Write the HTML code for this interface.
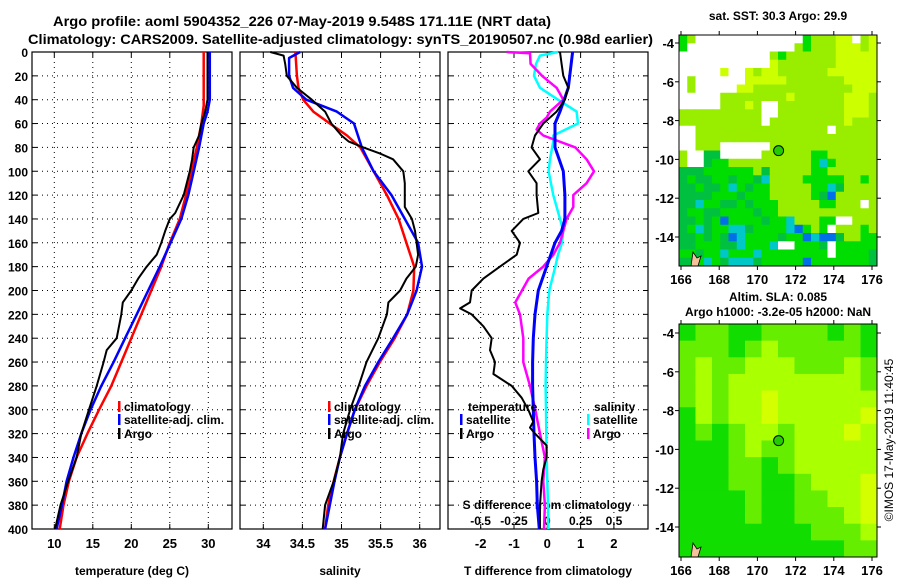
<!DOCTYPE html>
<html><head><meta charset="utf-8"><style>
body{margin:0;background:#fff;}
svg{display:block;font-family:"Liberation Sans",sans-serif;font-weight:bold;}
</style></head><body>
<svg id="chart" width="900" height="580" viewBox="0 0 900 580" xmlns="http://www.w3.org/2000/svg">
<text x="53" y="26" font-size="14" textLength="498" lengthAdjust="spacingAndGlyphs">Argo profile: aoml 5904352_226 07-May-2019 9.548S 171.11E (NRT data)</text>
<text x="28" y="44" font-size="14" textLength="625" lengthAdjust="spacingAndGlyphs">Climatology: CARS2009. Satellite-adjusted climatology: synTS_20190507.nc (0.98d earlier)</text>
<text x="778" y="20" font-size="12" text-anchor="middle">sat. SST: 30.3 Argo: 29.9</text>
<text x="778" y="301" font-size="12" text-anchor="middle">Altim. SLA: 0.085</text>
<text x="778" y="316" font-size="12" text-anchor="middle">Argo h1000: -3.2e-05 h2000: NaN</text>
<text transform="translate(893,440) rotate(-90)" font-size="12" font-weight="normal" text-anchor="middle">©IMOS 17-May-2019 11:40:45</text>
<g id="g"></g>
</svg>
<script>
const tDepth=[0,45,60,80,100,120,140,160,180,200,220,240,260,280,300,320,340,360,380,400];
const tClim=[29.4,29.4,29.1,28.5,27.8,27.1,26.3,25.0,23.9,22.6,21.3,20.0,18.7,17.4,15.8,14.3,12.9,11.9,11.2,10.7];
const tSatDepth=[0,40,50,60,80,100,120,140,160,180,200,220,240,260,280,300,320,340,360,380,400];
const tSat=[30.2,30.2,29.9,29.4,28.8,28.1,27.4,26.5,25.1,23.7,22.2,20.7,19.2,17.7,16.1,14.7,13.5,12.5,11.6,11.0,10.3];
const tArgoDepth=[0,40,50,60,70,80,90,100,120,135,140,150,160,170,180,190,200,210,220,240,250,260,280,300,320,340,360,380,400];
const tArgo=[29.9,29.9,29.6,29.1,28.8,28.1,27.9,27.6,26.8,25.7,25.0,24.4,23.9,23.3,22.0,20.9,20.0,18.9,18.7,18.1,16.8,16.4,15.5,14.5,13.5,12.9,11.8,10.8,10.1];
const sClimDepth=[0,20,30,40,50,60,70,80,100,120,140,160,180,200,220,240,260,280,300,320,340,360,380,400];
const sClim=[34.41,34.43,34.45,34.51,34.64,34.85,35.07,35.24,35.41,35.58,35.73,35.83,35.93,35.92,35.84,35.68,35.49,35.32,35.17,35.07,34.98,34.90,34.83,34.79];
const sSatDepth=[0,5,20,30,40,50,60,80,100,120,140,160,180,200,220,240,260,280,300,320,340,360,380,400];
const sSat=[34.47,34.33,34.33,34.38,34.55,34.94,35.16,35.26,35.41,35.64,35.81,35.98,36.03,35.96,35.84,35.66,35.47,35.30,35.17,35.07,34.98,34.91,34.85,34.79];
const sArgoDepth=[0,3,10,20,30,40,50,60,70,75,80,85,90,100,110,130,140,150,160,170,180,190,200,210,220,240,260,280,300,320,340,360,380,400];
const sArgo=[34.09,34.26,34.28,34.30,34.43,34.62,34.79,34.87,35.00,35.09,35.28,35.49,35.66,35.79,35.81,35.81,35.90,35.94,35.96,35.98,35.95,35.83,35.75,35.60,35.58,35.47,35.32,35.22,35.11,35.02,34.98,34.90,34.79,34.76];
const dTSatDepth=[0,30,50,60,80,100,120,140,150,160,180,200,220,240,260,280,300,320,340,360,380,400];
const dTSat=[0.76,0.63,0.38,0.23,0.23,0.48,0.53,0.53,0.43,0.23,-0.02,-0.27,-0.37,-0.42,-0.44,-0.44,-0.42,-0.40,-0.37,-0.32,-0.30,-0.24];
const dTArgoDepth=[0,10,20,30,40,50,60,70,80,90,100,110,120,135,140,150,160,170,180,190,200,210,215,220,230,240,250,260,270,280,290,300,310,315,320,330,340,350,360,380,400];
const dTArgo=[0.38,0.43,0.48,0.63,0.53,0.28,-0.12,-0.37,-0.47,-0.22,-0.57,-0.32,-0.32,-0.27,-0.72,-1.07,-0.82,-0.92,-1.42,-1.92,-2.27,-2.32,-2.62,-2.27,-1.92,-1.67,-1.72,-1.57,-1.62,-1.07,-0.77,-0.57,-0.42,-0.52,-0.37,-0.02,-0.02,-0.12,-0.17,-0.22,-0.22];
const dSSatDepth=[0,3,10,20,30,40,50,60,70,75,90,100,120,140,150,160,170,180,200,220,240,260,280,300,340,360,380,400];
const dSSat=[0.08,-0.055,-0.085,-0.1,-0.055,0.08,0.22,0.23,0.045,0.045,0.02,0.01,0.045,0.095,0.12,0.11,0.08,0.06,0.015,0,-0.005,-0.01,-0.013,-0.01,-0.005,0,0.005,0.008];
const dSArgoDepth=[0,1,10,20,30,35,40,50,55,60,65,70,80,90,100,110,120,130,140,150,160,170,180,190,200,210,220,240,260,280,300,320,340,360,380,400];
const dSArgo=[-0.305,-0.13,-0.125,-0.04,0.07,0.095,0.12,0.02,-0.005,-0.055,-0.08,-0.03,0.21,0.295,0.35,0.295,0.195,0.195,0.145,0.12,0.095,0.045,-0.03,-0.14,-0.19,-0.24,-0.205,-0.18,-0.18,-0.13,-0.09,-0.055,-0.018,-0.03,-0.018,-0.025];
const depthTicks=[0,20,40,60,80,100,120,140,160,180,200,220,240,260,280,300,320,340,360,380,400];
const tTicks=[10,15,20,25,30];
const sTicks=[34,34.5,35,35.5,36];
const dTTicks=[-2,-1,0,1,2];
const dSTicks=[-0.5,-0.25,0,0.25,0.5];
const lonTicks=[166,168,170,172,174,176];
const latTicks=[-4,-6,-8,-10,-12,-14];
const argoLon=171.11, argoLat=-9.548;
const sstGrid=[
"GLWWWWWWWWWWWWWGLLLYYWLY","GWWWWWWWWWWWWWLGLLLYYYLY","WWWWWWWWWWWLGLLLLLLYYYYY","WWWWWWWWWWWYLLLLLLLYYYYY",
"WWWWWYWWYLYYLLLLLLYYYYYY","WLWWWWWWYYYYYLLLLLLLYYYY","WLWWWWWYYLLLLLLLLLLLLYYY","WWWWWLLLLLLLLYLLLLLLYYYL",
"WWWWWLLLYLWWLLLLLLLLYYYL","LLLLLLLLLLWWLLLLLLLLYYYL","LLLLLLLLLLWLLLLLLLLLYLLL","WWLLLLLLLLLLLLLLLLWLLLLL",
"WWLLLLLLLLLLLLLLLLLLLLLL","WWLLLWWWWWWLLLLLLLLLLLLL","LWWDDWWWWWLLLLLLGGLLLLLL","LWWDGGLLLLLLLLLLGCGLLLLL",
"DDDGGGGGGLDLLLLLGGLLLLLL","DGDDGGDGGDCLLLLGGGGGLLGL","DDGDDGCGDGGLLLLLGGCDLLLL","DDDDGGGDGGGLLLLLGDBLLLLL",
"DDCGGDDGDGGGLLLLLGGLLLWL","DGGDDGGGGDGGLLLLLLLLLLLL","DDGDGBGGGGDGGCLLLGGWWLLL","DGCDGGCCDGGGGCBGLGWLLLGL",
"DDGDGDBCGGGGDGGBCBBDLLGG","DDGGGDDCGGGCWWGGGDWGGGGG","GGDGGCGGGCGGGGGGGGWGGGGD","DDGCGDCCCDGGGGGBGGGGGGGD"];
const slaGrid=[
"GLLGGLLLLGLG","LLLGLYLLLLLG","LYLLYYYLLLYL","LYLYYYYYYYYL","LYLYYOYYYYYY","GYLYYOYYYYYO","GLGLYYLYYYOY",
"GGGLYLLYYYYY","GGGLLGLYYYYY","GGGLLGGLYYYO","GGGGLGGLLYYO","GGGGLGGLLLYO","GGGGGGGGLLLY","GGGGGGGGGGLL"];

const NS="http://www.w3.org/2000/svg";
const G=document.getElementById('g');
function mk(t,a,p){const e=document.createElementNS(NS,t);for(const k in a)e.setAttribute(k,a[k]);(p||G).appendChild(e);return e;}
const Y0=52,Y1=529;
const yD=d=>Y0+(d/400)*(Y1-Y0);
const xT=v=>54.3+(v-10)*7.7;
const xS=v=>263.3+(v-34)*78.2;
const xDT=v=>547.3+v*33.3;
const xDS=v=>547.3+v*133.3;

function panel(x0,x1,name,xt,ticks,fn,fmt){
  const g=mk('g',{});
  
  
  depthTicks.forEach(d=>{ if(d>0&&d<400){const l=mk('line',{x1:x0,x2:x1,y1:yD(d),y2:yD(d),stroke:'#000','stroke-width':1,'stroke-dasharray':'1,4'},g);
    }
    mk('line',{x1:x0,x2:x0+5,y1:yD(d),y2:yD(d),stroke:'#000'},g);mk('line',{x1:x1-5,x2:x1,y1:yD(d),y2:yD(d),stroke:'#000'},g);});
  ticks.forEach(v=>{const x=fn(v);const l=mk('line',{x1:x,x2:x,y1:Y0,y2:Y1,stroke:'#000','stroke-dasharray':'1,4'},g);
    
    mk('line',{x1:x,x2:x,y1:Y1-5,y2:Y1,stroke:'#000'},g);mk('line',{x1:x,x2:x,y1:Y0,y2:Y0+5,stroke:'#000'},g);
    if(fmt){const t=mk('text',{x:x,y:548,'font-size':13,'text-anchor':'middle'},g);t.textContent=fmt(v);
      }});
  const r=mk('rect',{x:x0,y:Y0,width:x1-x0,height:Y1-Y0,fill:'none',stroke:'#000','stroke-width':1.2},g);
  
  const t=mk('text',{x:(x0+x1)/2,y:575,'font-size':12,'text-anchor':'middle'},g);t.textContent=xt;
  
}
panel(32,232,'temperature-panel','temperature (deg C)',tTicks,xT,v=>String(v));
panel(240,440,'salinity-panel','salinity',sTicks,xS,v=>String(v));
panel(448,648,'difference-panel','T difference from climatology',dTTicks,xDT,v=>String(v));
depthTicks.forEach(d=>{const t=mk('text',{x:28,y:yD(d)+5,'font-size':12,'text-anchor':'end'});t.textContent=d;
  });
dSTicks.forEach(v=>{const t=mk('text',{x:xDS(v),y:525,'font-size':12,'text-anchor':'middle'});t.textContent=String(v);
  });
{const t=mk('text',{x:547,y:509,'font-size':12,'text-anchor':'middle'});t.textContent='S difference from climatology';
 }

function line(depths,vals,fx,col,w,name){
  const pts=depths.map((d,i)=>fx(vals[i]).toFixed(1)+','+yD(d).toFixed(1)).join(' ');
  const p=mk('polyline',{points:pts,fill:'none',stroke:col,'stroke-width':w,'stroke-linejoin':'round'});
  
  
}
line(tDepth,tClim,xT,'#f00',2.5,'temperature-climatology-line');
line(tSatDepth,tSat,xT,'#00f',2.5,'temperature-satellite-line');
line(tArgoDepth,tArgo,xT,'#000',2,'temperature-argo-line');
line(sClimDepth,sClim,xS,'#f00',2.5,'salinity-climatology-line');
line(sSatDepth,sSat,xS,'#00f',2.5,'salinity-satellite-line');
line(sArgoDepth,sArgo,xS,'#000',2,'salinity-argo-line');
line(dSSatDepth,dSSat,xDS,'#0ff',2.5,'s-diff-satellite-line');
line(dSArgoDepth,dSArgo,xDS,'#f0f',2.5,'s-diff-argo-line');
line(dTSatDepth,dTSat,xDT,'#00f',3,'t-diff-satellite-line');
line(dTArgoDepth,dTArgo,xDT,'#000',2,'t-diff-argo-line');

function legend(x,y,col,label){
  const g=mk('g',{});
  
  
  mk('rect',{x:x,y:y-10,width:2.5,height:11,fill:col},g);
  const t=mk('text',{x:x+6,y:y,'font-size':12},g);t.textContent=label;
}
legend(118,411,'#f00','climatology');legend(118,424,'#00f','satellite-adj. clim.');legend(118,438,'#000','Argo');
legend(328,411,'#f00','climatology');legend(328,424,'#00f','satellite-adj. clim.');legend(328,438,'#000','Argo');
{const t=mk('text',{x:468,y:411,'font-size':12});t.textContent='temperature';}
{const t=mk('text',{x:594,y:411,'font-size':12});t.textContent='salinity';}
legend(460,424,'#00f','satellite');legend(460,438,'#000','Argo');
legend(587,424,'#0ff','satellite');legend(587,438,'#f0f','Argo');

const sstCol={W:'#ffffff',Y:'#ccff00',L:'#99ee00',G:'#00dd00',D:'#00c040',C:'#00c8c8',B:'#0070e8'};
const slaCol={G:'#11dd00',L:'#66ee00',Y:'#aaff00',O:'#d4ff00'};
function map(x0,y0,x1,y1,grid,cols,name,lbl){
  const g=mk('g',{});
  
  
  const nr=grid.length,nc=grid[0].length,cw=(x1-x0)/nc,ch=(y1-y0)/nr;
  grid.forEach((row,r)=>{for(let c=0;c<nc;c++){
    const cell=mk('rect',{x:(x0+c*cw).toFixed(2),y:(y0+r*ch).toFixed(2),width:(cw+0.5).toFixed(2),height:(ch+0.5).toFixed(2),fill:cols[row[c]]},g);
    
    }});
  const lonX=v=>681+(v-166)*19.1;
  const latY=lbl==1?(v=>43+(-4-v)*19.4):(v=>333+(-4-v)*19.4);
  mk('path',{d:`M${x0+12},${y1} l2,-14 l4,6 l4,-2 l-3,10 z`,fill:'#f5c39b',stroke:'#000','stroke-width':0.8},g);
  const cx=lonX(argoLon),cy=latY(argoLat);
  const m=mk('circle',{cx:cx,cy:cy,r:5,fill:'#22cc00',stroke:'#000','stroke-width':1},g);
  
  mk('rect',{x:x0,y:y0,width:x1-x0,height:y1-y0,fill:'none',stroke:'#000'},g);
  lonTicks.forEach(v=>{const x=lonX(v);mk('line',{x1:x,x2:x,y1:y1,y2:y1+4,stroke:'#000'},g);mk('line',{x1:x,x2:x,y1:y0,y2:y0-4,stroke:'#000'},g);
    const t=mk('text',{x:x,y:y1+18,'font-size':13,'text-anchor':'middle'},g);t.textContent=v;
    });
  latTicks.forEach(v=>{const y=latY(v);mk('line',{x1:x0-4,x2:x0,y1:y,y2:y,stroke:'#000'},g);mk('line',{x1:x1,x2:x1+4,y1:y,y2:y,stroke:'#000'},g);
    const t=mk('text',{x:x0-5,y:y+5,'font-size':13,'text-anchor':'end'},g);t.textContent=v;
    });
}
map(679,35,877,266,sstGrid,sstCol,'sst-map',1);
map(679,324,877,557,slaGrid,slaCol,'sla-map',2);
</script>
</body></html>
